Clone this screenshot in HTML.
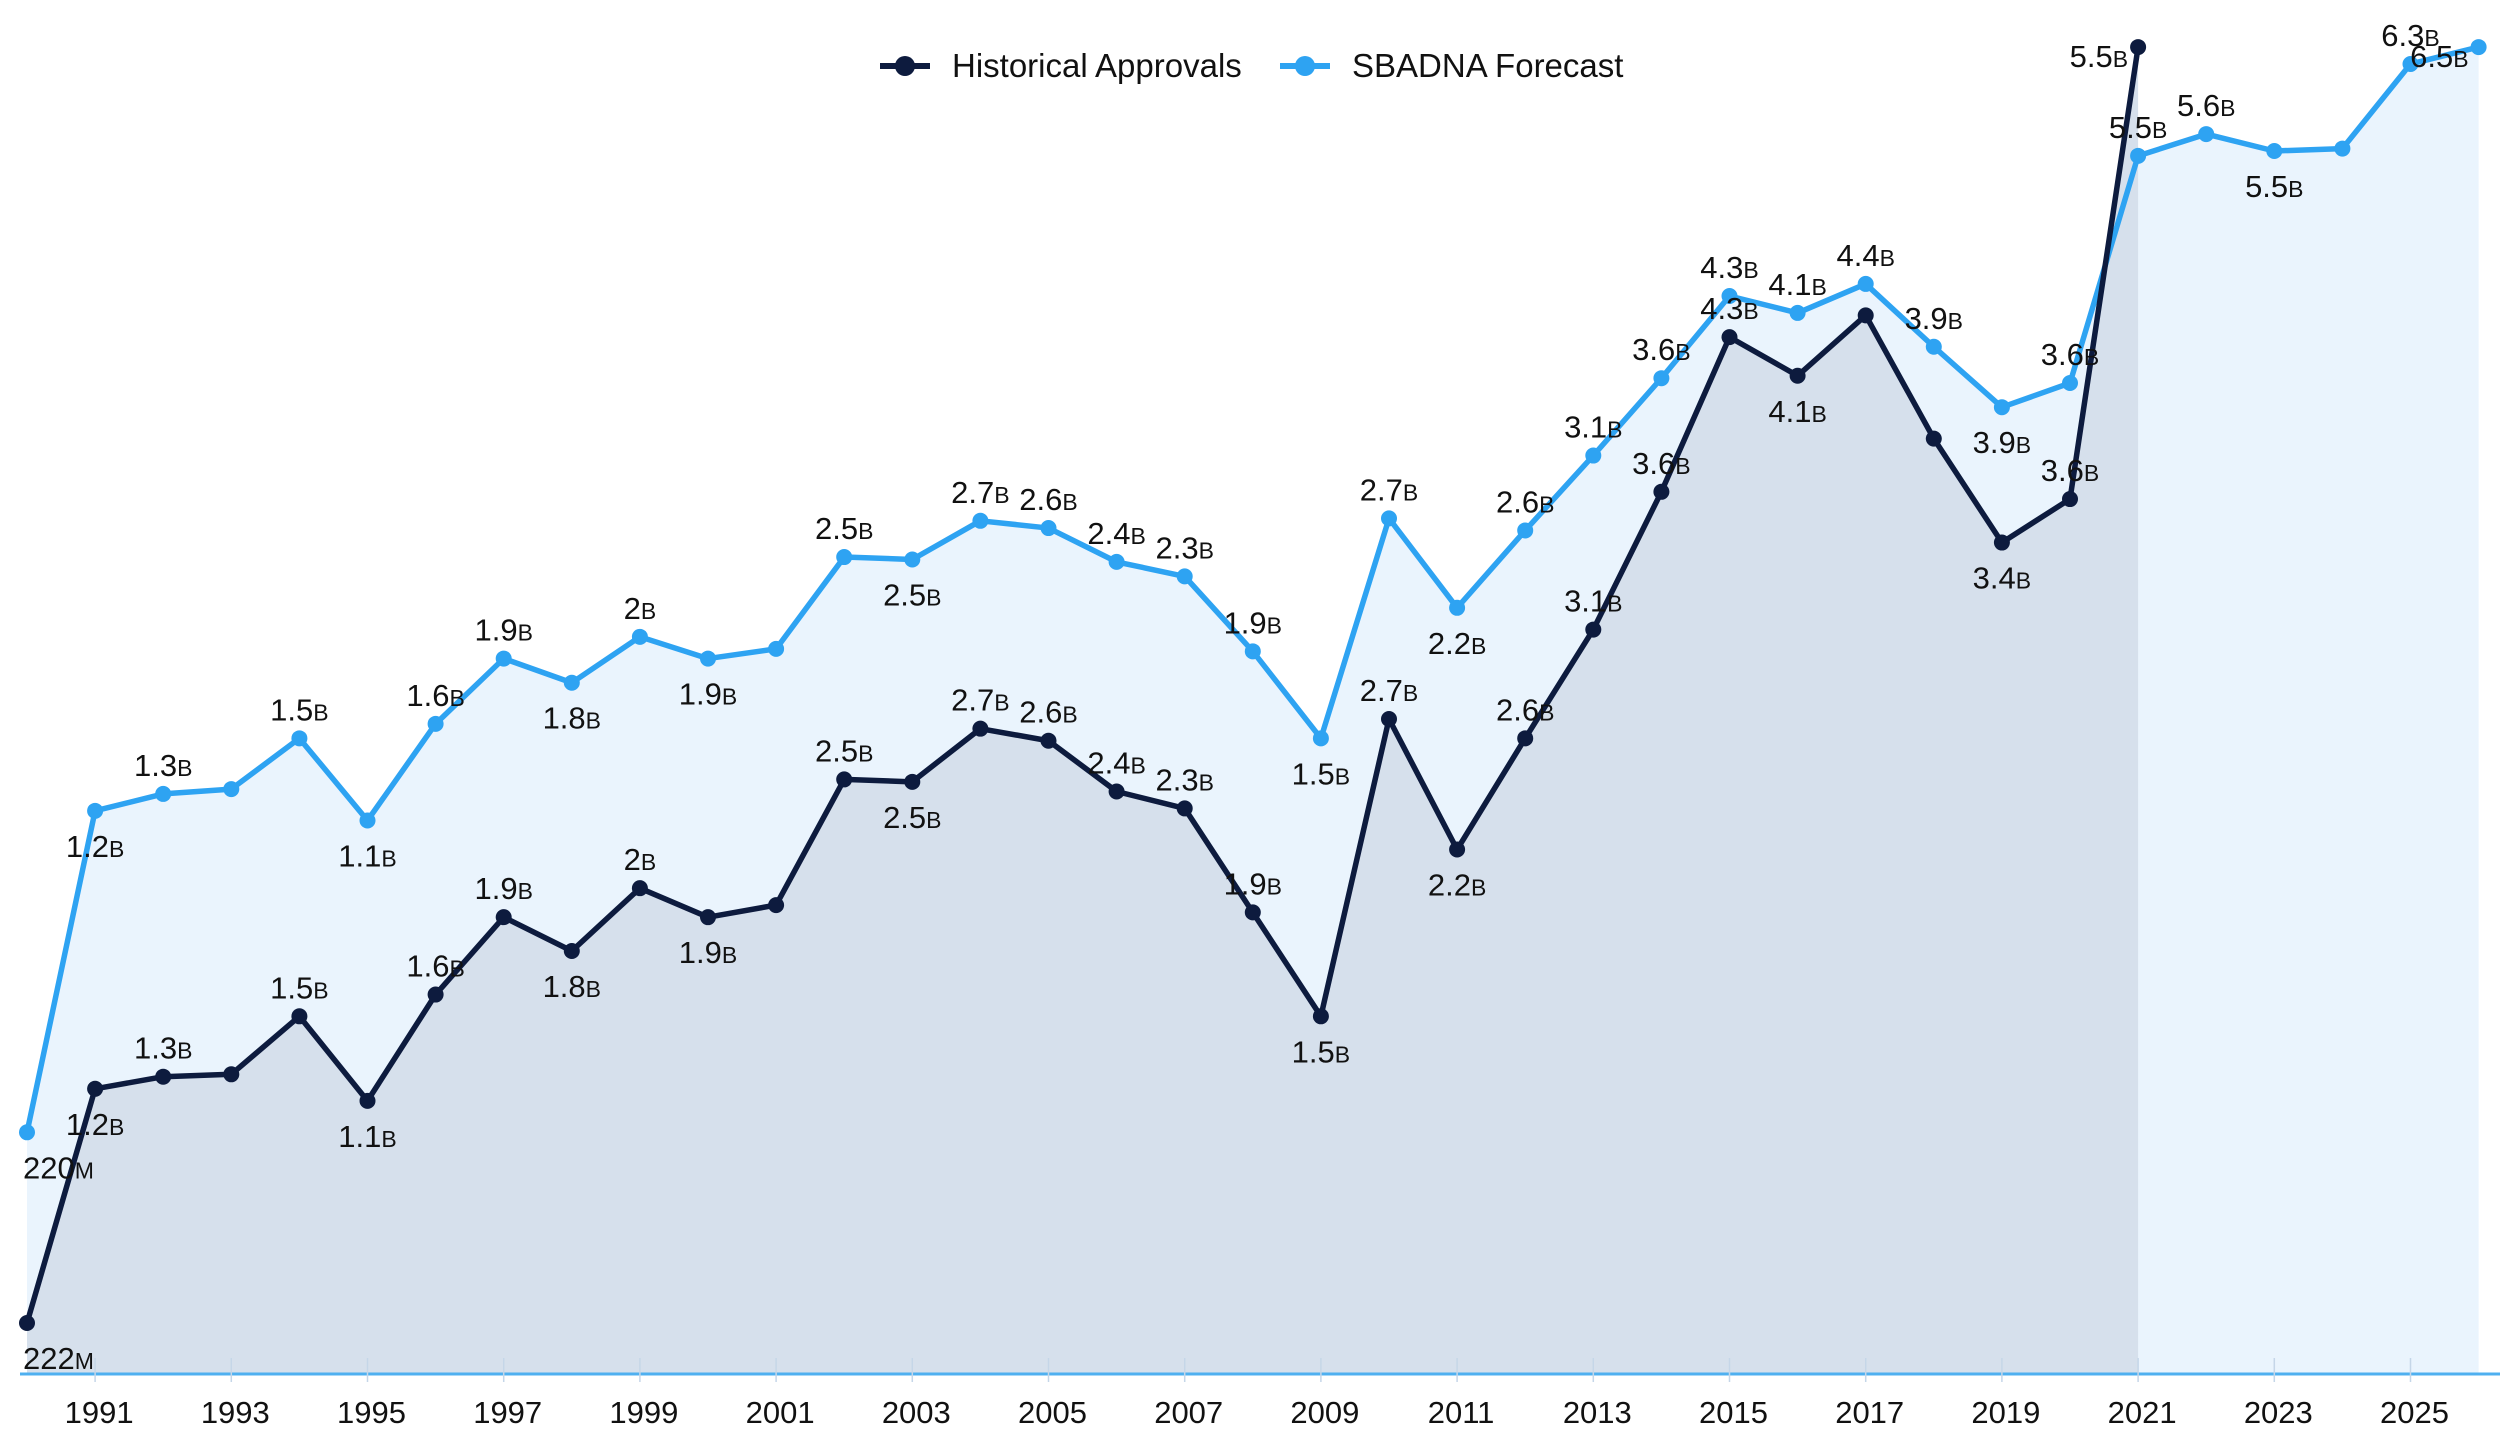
<!DOCTYPE html>
<html><head><meta charset="utf-8"><style>
html,body{margin:0;padding:0;background:#fff;}
svg text{font-family:"Liberation Sans",sans-serif;}
</style></head><body>
<svg id="chart" width="2500" height="1451" viewBox="0 0 2500 1451" xmlns="http://www.w3.org/2000/svg">
<g id="areas"></g>
<g id="axis"></g>
<g id="lines"></g>
<g id="labels"></g>
<g id="legend" transform="translate(880,66)">
  <g>
    <line x1="0" y1="0" x2="50" y2="0" stroke="#0d1b3e" stroke-width="6"/>
    <circle cx="25" cy="0" r="10" fill="#0d1b3e"/>
    <text x="72" y="11" font-size="33" fill="#111">Historical Approvals</text>
  </g>
  <g transform="translate(400,0)">
    <line x1="0" y1="0" x2="50" y2="0" stroke="#2ea3f2" stroke-width="6"/>
    <circle cx="25" cy="0" r="10" fill="#2ea3f2"/>
    <text x="72" y="11" font-size="33" fill="#111">SBADNA Forecast</text>
  </g>
</g>
</svg>
<script>
const years = [1990,1991,1992,1993,1994,1995,1996,1997,1998,1999,2000,2001,2002,2003,2004,2005,2006,2007,2008,2009,2010,2011,2012,2013,2014,2015,2016,2017,2018,2019,2020,2021,2022,2023,2024,2025,2026];
const histValues = [0.211,1.18,1.23,1.24,1.48,1.13,1.57,1.89,1.75,2.01,1.89,1.94,2.46,2.45,2.67,2.62,2.41,2.34,1.91,1.48,2.71,2.17,2.63,3.08,3.65,4.29,4.13,4.38,3.87,3.44,3.62,5.49];
const forecastValues = [1.00,2.33,2.40,2.42,2.63,2.29,2.69,2.96,2.86,3.05,2.96,3.00,3.38,3.37,3.53,3.50,3.36,3.30,2.99,2.63,3.54,3.17,3.49,3.80,4.12,4.46,4.39,4.51,4.25,4.00,4.10,5.04,5.13,5.06,5.07,5.42,5.49];
const histLabels = ["222M","1.2B","1.3B","","1.5B","1.1B","1.6B","1.9B","1.8B","2B","1.9B","","2.5B","2.5B","2.7B","2.6B","2.4B","2.3B","1.9B","1.5B","2.7B","2.2B","2.6B","3.1B","3.6B","4.3B","4.1B","","","3.4B","3.6B","5.5B"];
const forecastLabels = ["220M","1.2B","1.3B","","1.5B","1.1B","1.6B","1.9B","1.8B","2B","1.9B","","2.5B","2.5B","2.7B","2.6B","2.4B","2.3B","1.9B","1.5B","2.7B","2.2B","2.6B","3.1B","3.6B","4.3B","4.1B","4.4B","3.9B","3.9B","3.6B","5.5B","5.6B","5.5B","","6.3B","6.5B"];
const histBelow = [1990,1991,1995,1998,2000,2003,2009,2011,2016,2019];
const forecastBelow = [1990,1991,1995,1998,2000,2003,2009,2011,2019,2023];
const tickYears = [1991,1993,1995,1997,1999,2001,2003,2005,2007,2009,2011,2013,2015,2017,2019,2021,2023,2025];

const NS="http://www.w3.org/2000/svg";
const X0=27, PX=68.1, Y0=1374, PY=241.7;
const x = yr => X0 + (yr-1990)*PX;
const y = v => Y0 - v*PY;
function mk(tag, attrs, parent){const e=document.createElementNS(NS,tag);for(const k in attrs)e.setAttribute(k,attrs[k]);parent.appendChild(e);return e;}

const areas=document.getElementById('areas');
function areaPath(vals){let d=`M${x(years[0])},${Y0}`;vals.forEach((v,i)=>d+=` L${x(years[i])},${y(v)}`);d+=` L${x(years[vals.length-1])},${Y0} Z`;return d;}
const fa=mk('path',{d:areaPath(forecastValues),fill:'#eaf4fd'},areas);


const ha=mk('path',{d:areaPath(histValues),fill:'#d6e0ec'},areas);



const axis=document.getElementById('axis');
const bl=mk('line',{x1:20,x2:2500,y1:Y0,y2:Y0,stroke:'#4fb0f0','stroke-width':3},axis);


tickYears.forEach(t=>{
  const tk=mk('line',{x1:x(t),x2:x(t),y1:Y0-16,y2:Y0+8,stroke:'#c5d6e8','stroke-width':1.5},axis);
  
  
  const tl=mk('text',{x:x(t)+4,y:1423,'font-size':31,'text-anchor':'middle',fill:'#111'},axis);
  tl.textContent=t;
  
  
});

const lines=document.getElementById('lines');
function drawSeries(vals,color,name){
  const pts=vals.map((v,i)=>`${x(years[i])},${y(v)}`).join(' ');
  const pl=mk('polyline',{points:pts,fill:'none',stroke:color,'stroke-width':5.5,'stroke-linejoin':'round'},lines);
  
  
  vals.forEach((v,i)=>{
    const c=mk('circle',{cx:x(years[i]),cy:y(v),r:8,fill:color},lines);
    
    
  });
}
drawSeries(forecastValues,'#2ea3f2','forecast');
drawSeries(histValues,'#0d1b3e','historical');

const labels=document.getElementById('labels');
function drawLabels(vals,labs,below,name){
  vals.forEach((v,i)=>{
    const s=labs[i]; if(!s) return;
    const yr=years[i];
    const b=below.includes(yr);
    let anchor='middle', lx=x(yr), ly=b?y(v)+46:y(v)-18;
    if(yr===1990){anchor='start'; lx=x(yr)-4;}
    if(yr===2026){anchor='end'; lx=x(yr)-10; ly=y(v)+20;}
    if(name==='historical' && yr===2021){anchor='end'; lx=x(yr)-10; ly=y(v)+20;}
    const t=mk('text',{x:lx,y:ly,'font-size':31,'text-anchor':anchor,fill:'#111'},labels);
    
    
    const num=s.slice(0,-1), suf=s.slice(-1);
    t.appendChild(document.createTextNode(num));
    const sp=mk('tspan',{'font-size':23},t);
    sp.textContent=suf;
  });
}
drawLabels(forecastValues,forecastLabels,forecastBelow,'forecast');
drawLabels(histValues,histLabels,histBelow,'historical');
</script>
</body></html>
